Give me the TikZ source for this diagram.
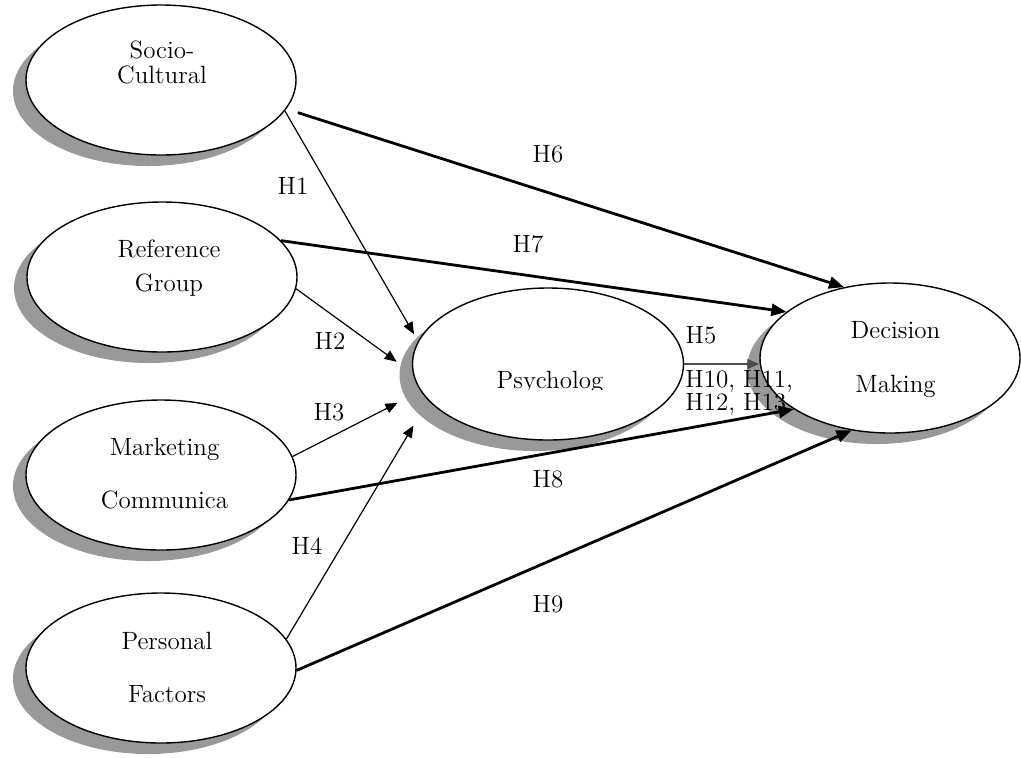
\documentclass[tikz,border=0pt]{standalone}
\usepackage{tikz}
\usetikzlibrary{shapes.geometric, shadows, arrows.meta}

\begin{document}
\begin{tikzpicture}[x=0.5pt, y=-0.5pt,
    factor/.style={draw, ellipse, fill=white, line width=0.7pt,
        minimum width=135pt, minimum height=75pt, inner sep=0pt,
        drop shadow={shadow xshift=-6.5pt, shadow yshift=-5.5pt, fill=black!40, opacity=1}},
    txt/.style={inner sep=0pt, align=center, anchor=north, font=\fontsize{12.5}{15}\selectfont},
    hyp/.style={inner sep=0pt, font=\fontsize{12.5}{15}\selectfont},
    thinlink/.style={-{Triangle[length=6pt, width=5pt]}, line width=0.6pt},
    thicklink/.style={-{Triangle[length=7.5pt, width=6pt]}, line width=1.4pt}]
        \useasboundingbox (0,0) rectangle (1021,757);

        % Nodes
        \node[factor] (socio) at (161,80) {};
        \node[factor] (group) at (162,277) {};
        \node[factor] (market) at (161,475) {};
        \node[factor] (personal) at (161,668) {};
        \node[factor, minimum width=135.5pt, minimum height=76pt] (psych) at (548,364) {};
        \node[factor, minimum width=130pt] (decision) at (890,358) {};

        % Texts in the ellipses
        \node[txt] (socio-t) at (162,40) {Socio-\\[-2.5pt]Cultural};
        \node[txt] (group-t) at (169,239) {Reference\\[2pt]Group};
        \node[txt] (market-t) at (164.5,438) {Marketing\\[11.5pt]Communica};
        \node[txt] (personal-t) at (167,632) {Personal\\[11.5pt]Factors};
        \node[txt] (decision-t) at (895.5,321) {Decision\\[12pt]Making};
        \begin{scope}
            % the text box cuts the word off at its baseline
            \clip (420,300) rectangle (680,389);
            \node[hyp, anchor=base] (psych-t) at (550,388) {Psycholog};
        \end{scope}

        % Arrows
        \draw[thicklink, shorten <=6pt] (socio.-13) -- (decision.123);
        \draw[thicklink] (group.17) -- (decision.156);
        \draw[thicklink] (market.-11) -- (decision.208);
        \draw[thicklink] (personal.-1) -- (decision.242);
        \draw[thinlink, shorten >=4pt] (socio.-14) -- (psych.170);
        \draw[thinlink, shorten >=10pt] (group.-5) -- (psych.184);
        \draw[thinlink, shorten >=13pt] (market.8) -- (psych.192);
        \draw[thinlink, shorten >=14.5pt] (personal.13) -- (psych.197);
        \draw[thinlink, black!70] (psych.east) -- (psych.east -| decision.west);

        % Hypotheses
        \node[hyp] (h1) at (293,186) {H1};
        \node[hyp] (h2) at (330,341) {H2};
        \node[hyp] (h3) at (329,412) {H3};
        \node[hyp] (h4) at (307,546) {H4};
        \node[hyp] (h5) at (701,335) {H5};
        \node[hyp] (h6) at (548,154) {H6};
        \node[hyp] (h7) at (528,244) {H7};
        \node[hyp] (h8) at (548,479) {H8};
        \node[hyp] (h9) at (548,604) {H9};
        \node[hyp, align=left, anchor=north west] (h10) at (685,370) {H10, H11,\\[-3.5pt]H12, H13};
    \end{tikzpicture}
\end{document}
